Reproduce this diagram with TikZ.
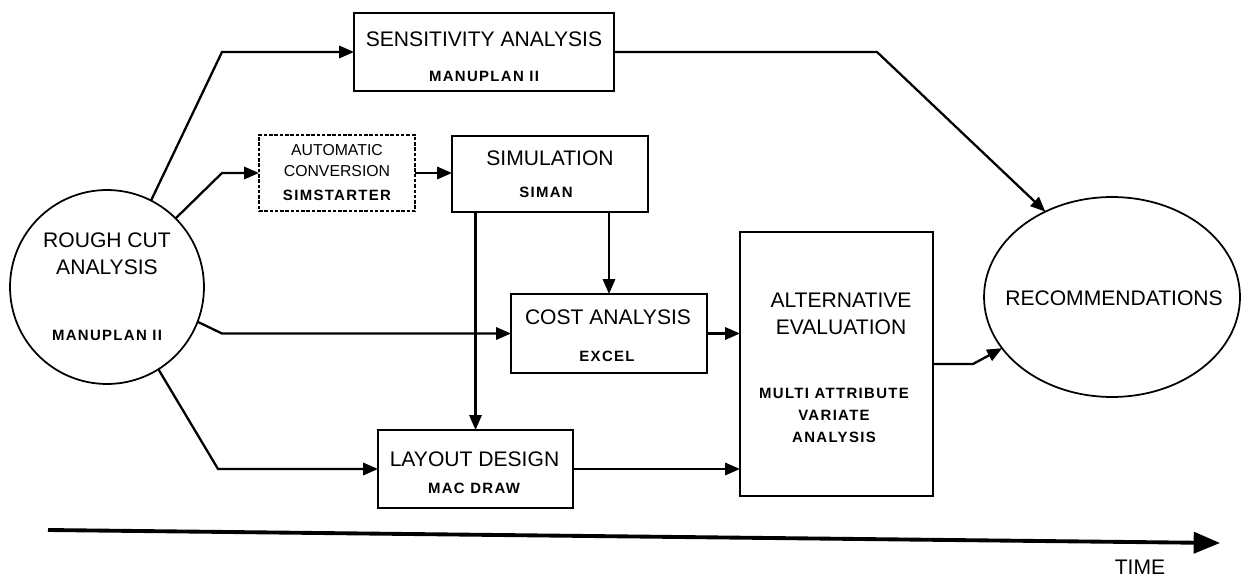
\documentclass[tikz,border=0pt]{standalone}
\usepackage{fontspec}
\setmainfont{Liberation Sans}
\newfontfamily\toolfont[LetterSpace=9]{Liberation Sans}
\usetikzlibrary{arrows.meta, shapes.geometric, positioning}

\begin{document}
\begin{tikzpicture}[x=0.02cm, y=-0.02cm,
            box/.style={draw, line width=1pt, inner sep=0pt, outer sep=0pt},
            title/.style={font=\fontsize{12}{15.3}\selectfont, align=center, inner sep=0pt},
            small/.style={font=\fontsize{9}{11.9}\selectfont, align=center, inner sep=0pt},
            tool/.style={font=\toolfont\bfseries\fontsize{8.5}{12.5}\selectfont, align=center, inner sep=0pt},
            flow/.style={line width=1.3pt, -{Triangle[length=8.5pt,width=7pt]}}]
            \useasboundingbox (0,0) rectangle (1260,577);

            \node[box, circle, minimum size=3.88cm] (rough) at (107,287) {};
            \node[title] (rough-t) at (107,253.5) {ROUGH CUT\\ANALYSIS};
            \node[tool] (rough-s) at (107,335) {MANUPLAN II};

            \node[box, minimum width=5.2cm, minimum height=1.56cm] (sens) at (484,52) {};
            \node[title] (sens-t) at (484,39) {SENSITIVITY ANALYSIS};
            \node[tool] (sens-s) at (484,76) {MANUPLAN II};

            \node[box, dash pattern=on 2pt off 1pt, minimum width=3.12cm, minimum height=1.52cm] (auto) at (337,173) {};
            \node[small] (auto-t) at (337,160.5) {AUTOMATIC\\CONVERSION};
            \node[tool] (auto-s) at (337,195) {SIMSTARTER};

            \node[box, minimum width=3.92cm, minimum height=1.52cm] (sim) at (550,174) {};
            \node[title] (sim-t) at (550,158) {SIMULATION};
            \node[tool] (sim-s) at (546,192) {SIMAN};

            \node[box, minimum width=3.92cm, minimum height=1.58cm] (cost) at (609,333.5) {};
            \node[title] (cost-t) at (608,317) {COST ANALYSIS};
            \node[tool] (cost-s) at (607,356) {EXCEL};

            \node[box, minimum width=3.9cm, minimum height=1.56cm] (layout) at (475.5,469) {};
            \node[title] (layout-t) at (474.5,459) {LAYOUT DESIGN};
            \node[tool] (layout-s) at (474,488) {MAC DRAW};

            \node[box, minimum width=3.86cm, minimum height=5.28cm] (alt) at (836.5,364) {};
            \node[title] (alt-t) at (841,313.5) {ALTERNATIVE\\EVALUATION};
            \node[tool] (alt-s) at (834,415) {MULTI ATTRIBUTE\\VARIATE\\ANALYSIS};

            \node[box, ellipse, minimum width=5.12cm, minimum height=4cm] (rec) at (1112,297) {};
            \node[title] (rec-t) at (1114,298) {RECOMMENDATIONS};

            \draw[flow] (rough.63) -- (222,52) -- (sens.west);
            \draw[flow] (rough.45) -- (222,173) -- (auto.west);
            \draw[flow] (rough.-21) -- (222,333.5) -- (cost.west);
            \draw[flow] (rough.-58) -- (218,469) -- (layout.west);
            \draw[flow] (auto.east) -- (auto.east -| sim.west);
            \draw[flow] (sim.south -| layout.north) -- (layout.north);
            \draw[flow] (sim.south -| cost.north) -- (cost.north);
            \draw[flow] (cost.east) -- (cost.east -| alt.west);
            \draw[flow] (layout.east) -- (layout.east -| alt.west);
            \draw[flow] (alt.east) -- (973,364) -- (rec.205);
            \draw[flow] (sens.east) -- (877,52) -- (rec.128);

            \coordinate (t0) at (48,530);
            \coordinate (t1) at (1220,543);
            \draw[line width=2.2pt, -{Triangle[length=15pt,width=12pt]}] (t0) -- (t1);
            \node[font=\fontsize{12}{14}\selectfont, inner sep=0pt] (time) at (1140,567) {TIME};
        \end{tikzpicture}
\end{document}
